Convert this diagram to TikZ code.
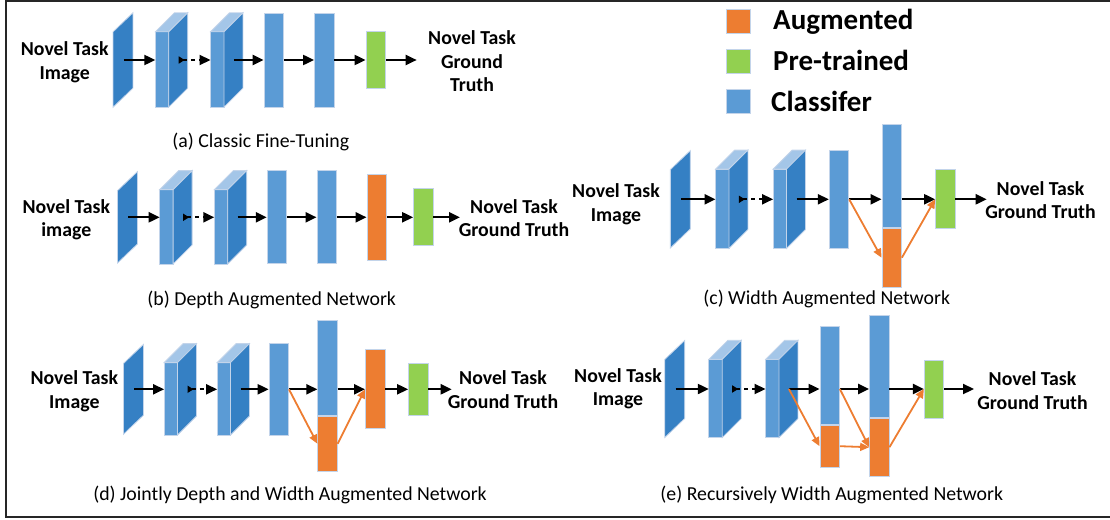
\documentclass[tikz,border=0pt]{standalone}
\usepackage{fontspec}
\setmainfont{Carlito}
\usetikzlibrary{arrows.meta}
\definecolor{slabblue}{HTML}{3580C4}
\definecolor{barblue}{HTML}{5B9BD5}
\definecolor{topblue}{HTML}{A4C6E8}
\definecolor{augorange}{HTML}{ED7D31}
\definecolor{pregreen}{HTML}{92D050}
\definecolor{edgecol}{HTML}{C3D4EA}

\newcommand{\netslab}[4]{%
  \node[slabnode, minimum height=#4pt] (#1) at (#2,#3) {};
  \filldraw[face, fill=slabblue] (#1.south west) -- ([yshift=-19pt]#1.north west) -- (#1.north east) -- ([yshift=19pt]#1.south east) -- cycle;
}
\newcommand{\netcube}[4]{%
  \node[cubenode, minimum height=#4pt] (#1) at (#2,#3) {};
  \filldraw[face, fill=barblue] (#1.south west) rectangle ([xshift=-19pt,yshift=-19pt]#1.north east);
  \filldraw[face, fill=topblue] ([yshift=-19pt]#1.north west) -- ([xshift=19pt]#1.north west) -- (#1.north east) -- ([xshift=-19pt,yshift=-19pt]#1.north east) -- cycle;
  \filldraw[face, fill=slabblue] ([xshift=-19pt]#1.south east) -- ([xshift=-19pt,yshift=-19pt]#1.north east) -- (#1.north east) -- ([yshift=19pt]#1.south east) -- cycle;
}

\begin{document}
\begin{tikzpicture}[x=1pt,y=-1pt,
  box/.style={draw=edgecol, line width=0.8pt, inner sep=0pt, minimum width=19.5pt},
  bar/.style={box, fill=barblue},
  aug/.style={box, fill=augorange},
  pre/.style={box, fill=pregreen},
  slabnode/.style={inner sep=0pt, minimum width=19.5pt},
  cubenode/.style={inner sep=0pt, minimum width=32pt},
  face/.style={draw=edgecol, line width=0.8pt},
  lbl/.style={font=\bfseries\fontsize{19.8}{23.5}\selectfont, align=center, inner sep=0pt},
  captext/.style={font=\fontsize{19.8}{23.5}\selectfont, inner sep=0pt},
  key/.style={draw=edgecol, line width=0.8pt, minimum size=24pt, inner sep=0pt},
  keytext/.style={font=\bfseries\fontsize{29}{34}\selectfont, anchor=base west, inner sep=0pt},
  arr/.style={-{Triangle[length=11pt,width=10pt]}, line width=2.2pt},
  darr/.style={{Triangle[reversed,length=6pt,width=7pt]}-{Triangle[length=11pt,width=10pt]}, line width=2.2pt, dash pattern=on 4pt off 4pt},
  oarr/.style={-{Triangle[length=9pt,width=8pt]}, draw=augorange, fill=augorange, line width=1.8pt}]
\useasboundingbox (0,0) rectangle (1110,519);
\draw[line width=2pt, black!85] (1110,1.5) -- (5.5,1.5) -- (5.5,516.8) -- (1110,516.8);

\node[key, fill=augorange] (k1) at (738,21) {};
\node[key, fill=pregreen] (k2) at (738,61) {};
\node[key, fill=barblue] (k3) at (738,101) {};
\node[keytext] (t1) at (773,29.5) {Augmented};
\node[keytext] (t2) at (773,70.7) {Pre-trained};
\node[keytext] (t3) at (771,111.7) {Classifer};

\node[lbl] (a0) at (64.7,62) {Novel Task\\Image};
\netslab{a1}{123}{60}{94}
\netcube{a2}{171.5}{60}{94}
\netcube{a3}{226.7}{60}{94}
\node[bar, minimum height=94pt] (a4) at (273.8,60) {};
\node[bar, minimum height=94pt] (a5) at (324.2,60) {};
\node[pre, minimum height=57pt] (a6) at (375.7,60) {};
\coordinate (a8) at (416.7,60);
\node[lbl] (a7) at (472,61.5) {Novel Task\\Ground\\Truth};
\draw[arr] ([xshift=-9pt]a1.east) -- (a2.west);
\draw[darr] ([xshift=-9pt]a2.east) -- (a3.west);
\draw[arr] ([xshift=-9pt]a3.east) -- (a4.west);
\foreach \s/\t in {a4/a5, a5/a6}
  \draw[arr] (\s.east) -- (\t.west);
\draw[arr] (a6.east) -- (a8);
\node[captext] (acap) at (260.8,141.7) {(a) Classic Fine-Tuning};

\node[lbl] (b0) at (66.3,219.7) {Novel Task\\image};
\netslab{b1}{127.5}{217.3}{91}
\netcube{b2}{175.9}{217.3}{93}
\netcube{b3}{230.5}{217.3}{93}
\node[bar, minimum height=93pt] (b4) at (276.9,217.3) {};
\node[bar, minimum height=93pt] (b5) at (326.7,217.3) {};
\node[aug, minimum height=86pt] (b6) at (376.7,217.3) {};
\node[pre, minimum height=57pt] (b7) at (423.3,217.3) {};
\coordinate (b9) at (460,217.3);
\node[lbl] (b8) at (514,218) {Novel Task\\Ground Truth};
\draw[arr] ([xshift=-9pt]b1.east) -- (b2.west);
\draw[darr] ([xshift=-9pt]b2.east) -- (b3.west);
\draw[arr] ([xshift=-9pt]b3.east) -- (b4.west);
\foreach \s/\t in {b4/b5, b5/b6, b6/b7}
  \draw[arr] (\s.east) -- (\t.west);
\draw[arr] (b7.east) -- (b9);
\node[captext] (bcap) at (271.7,300) {(b) Depth Augmented Network};

\node[lbl] (c0) at (616,204) {Novel Task\\Image};
\netslab{c1}{680.3}{199.3}{97}
\netcube{c2}{731.7}{199.3}{98}
\netcube{c3}{789.3}{199.3}{98}
\node[bar, minimum height=98pt] (c4) at (839,199.3) {};
\node[bar, minimum height=103pt, anchor=north] (c5) at (891.7,124) {};
\node[aug, minimum height=59pt, anchor=north] (c5o) at (c5.south) {};
\node[pre, minimum height=59pt] (c6) at (945.3,199.3) {};
\coordinate (c8) at (986.7,199.3);
\node[lbl] (c7) at (1040.5,200.2) {Novel Task\\Ground Truth};
\draw[arr] ([xshift=-9pt]c1.east) -- (c2.west);
\draw[darr] ([xshift=-9pt]c2.east) -- (c3.west);
\draw[arr] ([xshift=-9pt]c3.east) -- (c4.west);
\draw[arr] (c4.east) -- (c5.west |- c4.east);
\draw[arr] (c5.east |- c4.east) -- (c6.west);
\draw[arr] (c6.east) -- (c8);
\draw[oarr] (c4.east) -- (c5o.west);
\draw[oarr] (c5o.east) -- (c6.west);
\node[captext] (ccap) at (826.7,299.3) {(c) Width Augmented Network};

\node[lbl] (d0) at (74.3,391.3) {Novel Task\\Image};
\netslab{d1}{133.5}{389.3}{89.4}
\netcube{d2}{180.3}{389.3}{91}
\netcube{d3}{233.3}{389.3}{91}
\node[bar, minimum height=92pt] (d4) at (278.8,389.3) {};
\node[bar, minimum height=95pt, anchor=north] (d5) at (327.5,320) {};
\node[aug, minimum height=55pt, anchor=north] (d5o) at (d5.south) {};
\node[aug, minimum height=79pt] (d6) at (375.2,389.3) {};
\node[pre, minimum height=52pt] (d7) at (418.3,389.3) {};
\coordinate (d9) at (451.7,389.3);
\node[lbl] (d8) at (503,389.7) {Novel Task\\Ground Truth};
\draw[arr] ([xshift=-9pt]d1.east) -- (d2.west);
\draw[darr] ([xshift=-9pt]d2.east) -- (d3.west);
\draw[arr] ([xshift=-9pt]d3.east) -- (d4.west);
\draw[arr] (d4.east) -- (d5.west |- d4.east);
\draw[arr] (d5.east |- d4.east) -- (d6.west);
\draw[arr] (d6.east) -- (d7.west);
\draw[arr] (d7.east) -- (d9);
\draw[oarr] (d4.east) -- (d5o.west);
\draw[oarr] (d5o.east) -- (d6.west);
\node[captext] (dcap) at (290,495) {(d) Jointly Depth and Width Augmented Network};

\node[lbl] (e0) at (618,388.5) {Novel Task\\Image};
\netslab{e1}{674.7}{389}{96.7}
\netcube{e2}{725}{389}{97}
\netcube{e3}{781.7}{389}{97}
\node[bar, minimum height=98pt, anchor=north] (e4) at (829.7,326) {};
\node[aug, minimum height=42pt, anchor=north] (e4o) at (e4.south) {};
\node[bar, minimum height=102pt, anchor=north] (e5) at (879.3,315) {};
\node[aug, minimum height=58pt, anchor=north] (e5o) at (e5.south) {};
\node[pre, minimum height=58pt] (e6) at (934,389) {};
\coordinate (e8) at (974,389);
\node[lbl] (e7) at (1032.5,390.4) {Novel Task\\Ground Truth};
\draw[arr] ([xshift=-9pt]e1.east) -- (e2.west);
\draw[darr] ([xshift=-9pt]e2.east) -- (e3.west);
\draw[arr] ([xshift=-9pt]e3.east) -- (e4.west |- e3);
\draw[arr] (e4.east |- e3) -- (e5.west |- e3);
\draw[arr] (e5.east |- e3) -- (e6.west);
\draw[arr] (e6.east) -- (e8);
\draw[oarr] ([xshift=-9pt]e3.east) -- (e4o.west);
\draw[oarr] (e4.east |- e3) -- (e5o.west);
\draw[oarr] (e4o.east) -- (e5o.west);
\draw[oarr] (e5o.east) -- (e6.west);
\node[captext] (ecap) at (831.7,495) {(e) Recursively Width Augmented Network};
\end{tikzpicture}
\end{document}
